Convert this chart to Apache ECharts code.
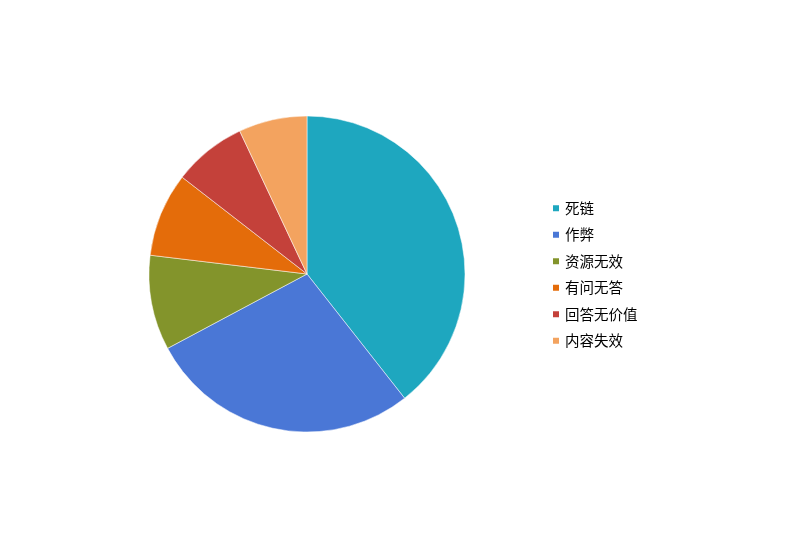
<!DOCTYPE html>
<html>
<head>
<meta charset="utf-8">
<script src="https://cdn.jsdelivr.net/npm/echarts@6/dist/echarts.min.js"></script>
<style>
	html, body { margin: 0; padding: 0; background: #fff; }
	#main { width: 800px; height: 540px; }
</style>
</head>
<body>
<div id="main"></div>
<script>
var categories = ['死链', '作弊', '资源无效', '有问无答', '回答无价值', '内容失效'];
var values = [39.4, 27.8, 9.7, 8.6, 7.5, 7.0];
var colorList = ['#1ea7bf', '#4a77d6', '#83942b', '#e46c0a', '#c4413a', '#f3a35f'];

var myChart = echarts.init(document.getElementById('main'));

var pieData = [];
for (var i = 0; i < categories.length; i++) {
	pieData.push({
		name: categories[i],
		value: values[i],
		itemStyle: { color: colorList[i] }
	});
}

var option = {
	animation: false,
	legend: {
		orient: 'vertical',
		left: 546,
		top: 196,
		icon: 'rect',
		itemWidth: 8,
		itemHeight: 8,
		itemGap: 12,
		textStyle: {
			fontSize: 14.5,
			color: '#000',
			fontFamily: 'Noto Sans CJK SC'
		},
		data: categories
	},
	series: [{
		type: 'pie',
		center: [307, 274],
		radius: 158,
		startAngle: 90,
		clockwise: true,
		label: { show: false },
		labelLine: { show: false },
		itemStyle: {
			borderColor: '#fff',
			borderWidth: 0.5
		},
		data: pieData
	}]
};

myChart.setOption(option, true);
</script>
</body>
</html>
